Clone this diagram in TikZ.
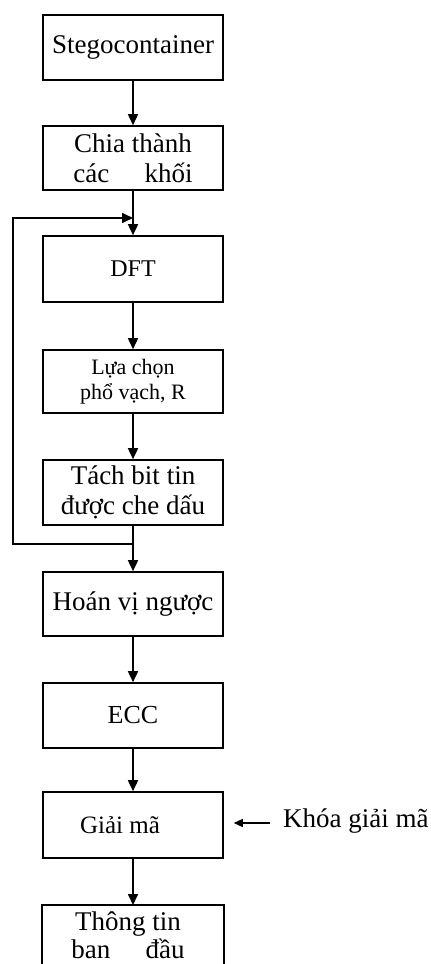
\documentclass[tikz,border=0pt]{standalone}
\usepackage{fontspec}
\setmainfont{Liberation Serif}
\usetikzlibrary{arrows.meta}
\begin{document}
\begin{tikzpicture}[x=1pt,y=-1pt,
  box/.style={draw,line width=1.6pt,minimum width=180pt,inner sep=0pt,align=center,
    font=\fontsize{27}{30}\selectfont},
  arr/.style={line width=1.6pt,-{Triangle[length=11pt,width=10pt]}},
  lnk/.style={line width=1.6pt}]
\useasboundingbox (0,0) rectangle (431,964);
\clip (0,0) rectangle (431,964);
\fill[white] (0,0) rectangle (431,964);
\node[box,minimum height=65pt] (b1) at (133,47.5) {Stegocontainer};
\node[box,minimum height=64pt] (b2) at (133,158) {Chia thành\\các\hspace{1.3em}khối};
\node[box,minimum height=66pt,font=\fontsize{24}{27}\selectfont] (b3) at (133,269) {DFT};
\node[box,minimum height=63pt,font=\fontsize{22}{25}\selectfont] (b4) at (133,381.5) {Lựa chọn\\phổ vạch, R};
\node[box,minimum height=65pt] (b5) at (133,492.5) {Tách bit tin\\được che dấu};
\node[box,minimum height=64pt] (b6) at (133,604) {Hoán vị ngược};
\node[box,minimum height=65pt,font=\fontsize{26}{29}\selectfont] (b7) at (133,715.5) {ECC};
\node[box,minimum height=66pt,font=\fontsize{25}{28}\selectfont] (b8) at (133,825) {\hspace*{-26pt}Giải mã};
\node[box,draw=none,minimum height=58pt,anchor=north] (b9) at (133,905) {\hspace*{-10pt}Thông tin\\[-2pt]\hspace*{-10pt}ban\hspace{1.3em}đầu};
\draw[lnk] ([yshift=-30pt]b9.south west) -- (b9.north west) -- (b9.north east) -- ([yshift=-30pt]b9.south east);
\node[anchor=west,inner sep=0pt,font=\fontsize{27}{30}\selectfont] (key) at (283,821) {Khóa giải mã};
\coordinate (keyarr) at (270,823);
\coordinate (fbot) at (13,544);
\coordinate (ftop) at (13,218);
\draw[arr] (b1) -- (b2);
\draw[arr] (b2) -- (b3);
\draw[arr] (b3) -- (b4);
\draw[arr] (b4) -- (b5);
\draw[arr] (b5) -- (b6);
\draw[arr] (b6) -- (b7);
\draw[arr] (b7) -- (b8);
\draw[arr] (b8) -- (b9);
\draw[arr] (b5.south |- fbot) -- (fbot) -- (ftop) -- (b2.south |- ftop);
\draw[line width=1.4pt,-{Triangle[length=9pt,width=8pt]}] (keyarr) -- ([xshift=10pt]b8.east |- keyarr);
\end{tikzpicture}
\end{document}
